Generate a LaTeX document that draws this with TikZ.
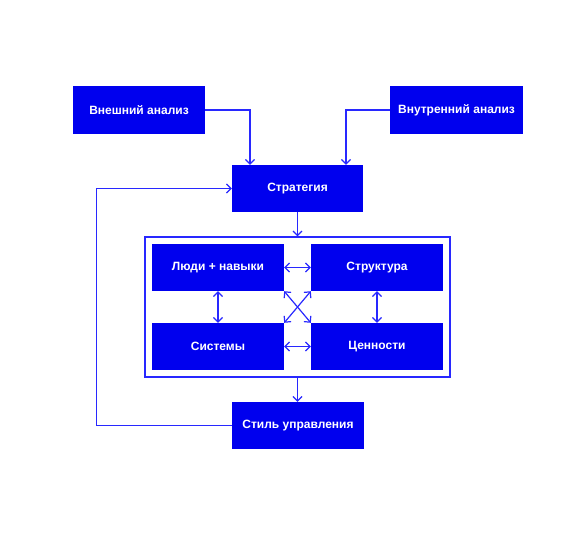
\documentclass[tikz,border=0pt]{standalone}
\usepackage{fontspec}
\setmainfont{Liberation Sans}
\usetikzlibrary{arrows.meta}
\definecolor{boxblue}{RGB}{0,0,238}
\definecolor{lineblue}{RGB}{40,40,255}
\tikzset{
  blk/.style={rectangle, fill=boxblue, draw=none, text=white, font=\bfseries\fontsize{12}{14}\selectfont, minimum width=132pt, minimum height=47pt, inner sep=0pt},
  conn/.style={draw=lineblue, line width=1.2pt},
  arr/.style={conn, -{Straight Barb[length=4.5pt,width=9pt]}},
  darr/.style={conn, {Straight Barb[length=4.5pt,width=9pt]}-{Straight Barb[length=4.5pt,width=9pt]}}
}
\begin{document}
\begin{tikzpicture}[x=1pt,y=-1pt]
\useasboundingbox (0,0) rectangle (585,552);
\fill[white] (0,0) rectangle (585,552);
\node[blk, minimum height=48pt] (ext) at (139,110) {Внешний анализ};
\node[blk, minimum width=133pt, minimum height=48pt] (int) at (456.5,110) {Внутренний анализ};
\node[blk, minimum width=131pt] (strat) at (297.5,188.5) {Стратегия};
\node[draw=lineblue, line width=1.2pt, minimum width=305pt, minimum height=140pt, inner sep=0pt] (cont) at (297.5,307) {};
\node[blk] (people) at (218,267.5) {Люди + навыки};
\node[blk] (struct) at (377,267.5) {Структура};
\node[blk] (sys) at (218,346.5) {Системы};
\node[blk] (val) at (377,346.5) {Ценности};
\node[blk] (style) at (298,425.5) {Стиль управления};
\draw[arr] (ext.east) -| ([xshift=-47.5pt]strat.north);
\draw[arr] (int.west) -| ([xshift=48.5pt]strat.north);
\draw[arr] (style.west) -- ++(-135,0) |- (strat.west);
\draw[arr] (strat.south) -- (cont.north);
\draw[arr] (cont.south) -- (style.north -| cont.south);
\draw[darr] (people.east) -- (struct.west);
\draw[darr] (sys.east) -- (val.west);
\draw[darr] (people.south) -- (sys.north);
\draw[darr] (struct.south) -- (val.north);
\draw[darr] (people.south east) -- (val.north west);
\draw[darr] (struct.south west) -- (sys.north east);
\end{tikzpicture}
\end{document}
